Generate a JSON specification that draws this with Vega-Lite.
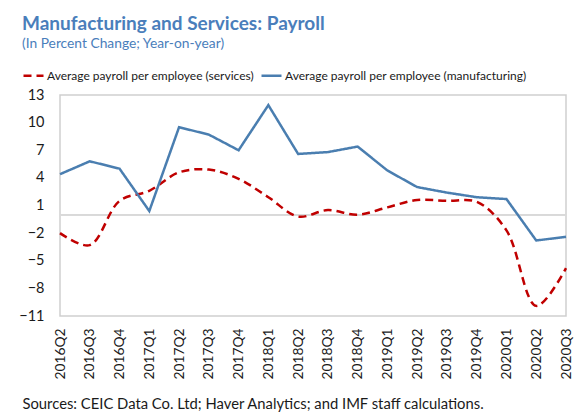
{
  "$schema": "https://vega.github.io/schema/vega-lite/v6.json",
  "width": 506,
  "height": 221,
  "autosize": "none",
  "padding": {"left": 60, "top": 95, "right": 17, "bottom": 96},
  "background": "white",
  "title": {
    "text": "Manufacturing and Services: Payroll",
    "subtitle": "(In Percent Change; Year-on-year)",
    "anchor": "start",
    "frame": "group",
    "dx": -38,
    "offset": 13,
    "font": "Lato",
    "fontSize": 19,
    "fontWeight": "bold",
    "color": "#4a7ebb",
    "subtitleFont": "Lato",
    "subtitleColor": "#4a7ebb",
    "subtitleFontSize": 13.8,
    "subtitlePadding": 3
  },
  "config": {
    "font": "Lato",
    "view": {"stroke": "#cfcfcf", "strokeWidth": 1.5}
  },
  "data": {
    "values": [
      {"quarter": "2016Q2", "series": "Average payroll per employee (manufacturing)", "value": 4.4},
      {"quarter": "2016Q3", "series": "Average payroll per employee (manufacturing)", "value": 5.8},
      {"quarter": "2016Q4", "series": "Average payroll per employee (manufacturing)", "value": 5.0},
      {"quarter": "2017Q1", "series": "Average payroll per employee (manufacturing)", "value": 0.4},
      {"quarter": "2017Q2", "series": "Average payroll per employee (manufacturing)", "value": 9.5},
      {"quarter": "2017Q3", "series": "Average payroll per employee (manufacturing)", "value": 8.7},
      {"quarter": "2017Q4", "series": "Average payroll per employee (manufacturing)", "value": 7.0},
      {"quarter": "2018Q1", "series": "Average payroll per employee (manufacturing)", "value": 11.9},
      {"quarter": "2018Q2", "series": "Average payroll per employee (manufacturing)", "value": 6.6},
      {"quarter": "2018Q3", "series": "Average payroll per employee (manufacturing)", "value": 6.8},
      {"quarter": "2018Q4", "series": "Average payroll per employee (manufacturing)", "value": 7.4},
      {"quarter": "2019Q1", "series": "Average payroll per employee (manufacturing)", "value": 4.8},
      {"quarter": "2019Q2", "series": "Average payroll per employee (manufacturing)", "value": 3.0},
      {"quarter": "2019Q3", "series": "Average payroll per employee (manufacturing)", "value": 2.4},
      {"quarter": "2019Q4", "series": "Average payroll per employee (manufacturing)", "value": 1.9},
      {"quarter": "2020Q1", "series": "Average payroll per employee (manufacturing)", "value": 1.7},
      {"quarter": "2020Q2", "series": "Average payroll per employee (manufacturing)", "value": -2.8},
      {"quarter": "2020Q3", "series": "Average payroll per employee (manufacturing)", "value": -2.4},
      {"quarter": "2016Q2", "series": "Average payroll per employee (services)", "value": -2.0},
      {"quarter": "2016Q3", "series": "Average payroll per employee (services)", "value": -3.3},
      {"quarter": "2016Q4", "series": "Average payroll per employee (services)", "value": 1.5},
      {"quarter": "2017Q1", "series": "Average payroll per employee (services)", "value": 2.6},
      {"quarter": "2017Q2", "series": "Average payroll per employee (services)", "value": 4.6},
      {"quarter": "2017Q3", "series": "Average payroll per employee (services)", "value": 4.9},
      {"quarter": "2017Q4", "series": "Average payroll per employee (services)", "value": 3.9},
      {"quarter": "2018Q1", "series": "Average payroll per employee (services)", "value": 1.9},
      {"quarter": "2018Q2", "series": "Average payroll per employee (services)", "value": -0.2},
      {"quarter": "2018Q3", "series": "Average payroll per employee (services)", "value": 0.5},
      {"quarter": "2018Q4", "series": "Average payroll per employee (services)", "value": 0.0},
      {"quarter": "2019Q1", "series": "Average payroll per employee (services)", "value": 0.8},
      {"quarter": "2019Q2", "series": "Average payroll per employee (services)", "value": 1.6},
      {"quarter": "2019Q3", "series": "Average payroll per employee (services)", "value": 1.5},
      {"quarter": "2019Q4", "series": "Average payroll per employee (services)", "value": 1.4},
      {"quarter": "2020Q1", "series": "Average payroll per employee (services)", "value": -1.7},
      {"quarter": "2020Q2", "series": "Average payroll per employee (services)", "value": -9.9},
      {"quarter": "2020Q3", "series": "Average payroll per employee (services)", "value": -5.8}
    ]
  },
  "encoding": {
    "x": {
      "field": "quarter",
      "type": "ordinal",
      "scale": {"type": "point", "padding": 0},
      "axis": {
        "labelAngle": -90,
        "labelFontSize": 13.8,
        "labelColor": "#1a1a1a",
        "labelPadding": 12,
        "ticks": false,
        "domain": false,
        "grid": false,
        "title": "Sources: CEIC Data Co. Ltd; Haver Analytics; and IMF staff calculations.",
        "titleX": -38,
        "titleY": 92,
        "titleAlign": "left",
        "titleAnchor": "start",
        "titleBaseline": "alphabetic",
        "titleFontSize": 14.8,
        "titleFontWeight": "normal",
        "titleColor": "#1a1a1a"
      }
    },
    "y": {
      "field": "value",
      "type": "quantitative",
      "scale": {"domain": [-11, 13], "nice": false, "zero": false},
      "axis": {
        "values": [-11, -8, -5, -2, 1, 4, 7, 10, 13],
        "labelFontSize": 14.5,
        "labelColor": "#1a1a1a",
        "labelPadding": 16,
        "ticks": false,
        "domain": false,
        "grid": false,
        "title": null
      }
    },
    "color": {
      "field": "series",
      "type": "nominal",
      "scale": {
        "domain": ["Average payroll per employee (services)", "Average payroll per employee (manufacturing)"],
        "range": ["#c00000", "#4a7eb0"]
      },
      "legend": {
        "orient": "none",
        "legendX": -38,
        "legendY": -31,
        "direction": "horizontal",
        "title": null,
        "symbolType": "stroke",
        "symbolSize": 400,
        "symbolStrokeWidth": 2.5,
        "labelFontSize": 12,
        "labelColor": "#1a1a1a",
        "labelLimit": 500,
        "labelOffset": 2,
        "columnPadding": 2
      }
    },
    "strokeDash": {
      "field": "series",
      "type": "nominal",
      "scale": {
        "domain": ["Average payroll per employee (services)", "Average payroll per employee (manufacturing)"],
        "range": [[8, 5], [1, 0]]
      },
      "legend": {
        "orient": "none",
        "legendX": -38,
        "legendY": -31,
        "direction": "horizontal",
        "title": null,
        "symbolType": "stroke",
        "symbolSize": 400,
        "symbolStrokeWidth": 2.5,
        "labelFontSize": 12,
        "labelColor": "#1a1a1a",
        "labelLimit": 500,
        "labelOffset": 2,
        "columnPadding": 2
      }
    }
  },
  "layer": [
    {
      "mark": {"type": "rule", "color": "#d9d9d9", "strokeWidth": 1.5},
      "encoding": {"y": {"datum": 0}, "x": null, "color": null, "strokeDash": null}
    },
    {
      "transform": [{"filter": "datum.series === 'Average payroll per employee (services)'"}],
      "mark": {"type": "line", "strokeWidth": 2.5, "interpolate": "catmull-rom"}
    },
    {
      "transform": [{"filter": "datum.series === 'Average payroll per employee (manufacturing)'"}],
      "mark": {"type": "line", "strokeWidth": 2.5}
    }
  ]
}
